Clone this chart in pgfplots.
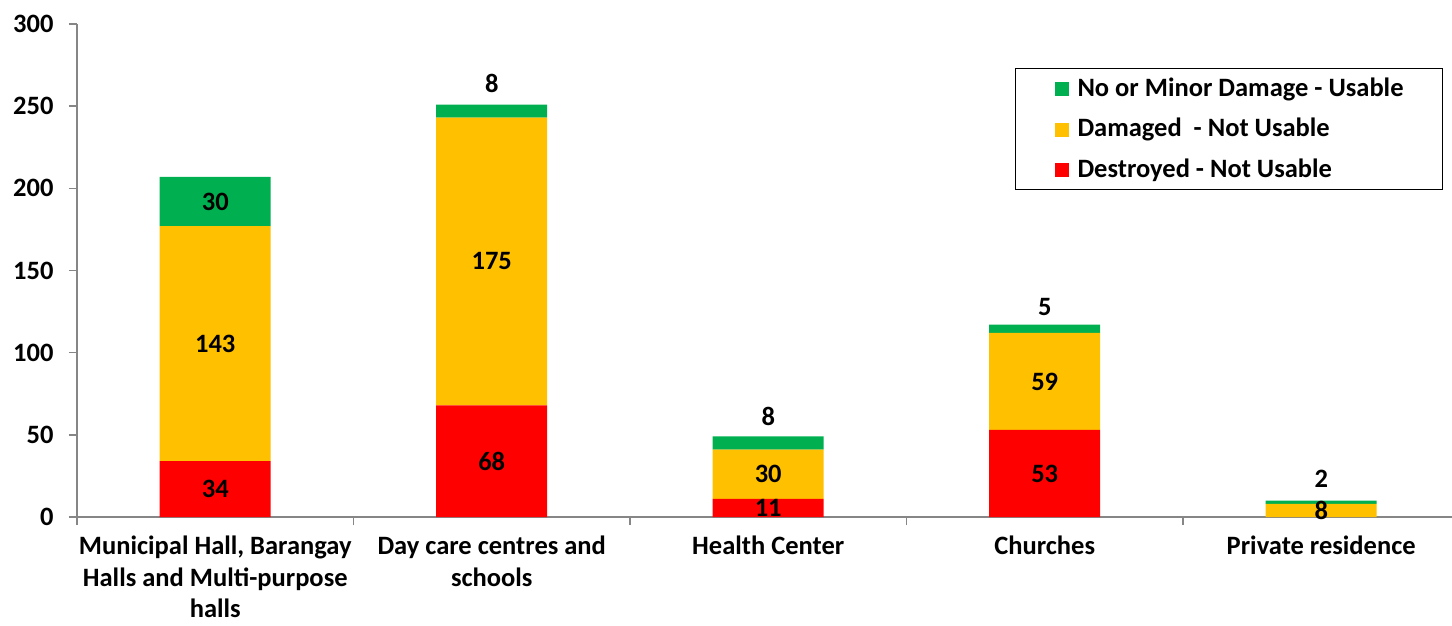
\documentclass[border=0pt]{standalone}
\usepackage{pgfplots}
\pgfplotsset{compat=1.18}
\usepackage{fontspec}
\setmainfont{Carlito}
\definecolor{cgreen}{HTML}{00B050}
\definecolor{cyellow}{HTML}{FFC000}
\definecolor{cred}{HTML}{FF0000}
\definecolor{axgray}{HTML}{868686}
\newcommand{\cfont}{\fontsize{26.5bp}{32.5bp}\selectfont\bfseries}
\newcommand{\xfont}{\fontsize{26.5bp}{31.5bp}\selectfont\bfseries}
\begin{document}
\begin{tikzpicture}
\useasboundingbox (-77bp,-109bp) rectangle (1375bp,517bp);
\pgfplotsset{
  base/.style={
    scale only axis, width=1382.5bp, height=493bp,
    xmin=-0.5, xmax=4.5, ymin=0, ymax=300,
    at={(0,0)}, anchor=south west,
  }
}
\begin{axis}[base,
  ybar stacked, bar width=111bp,
  axis lines*=left,
  axis line style={axgray, line width=1.5bp},
  ytick={0,50,100,150,200,250,300},
  xtick={-0.5,0.5,1.5,2.5,3.5,4.5},
  x tick label as interval,
  xticklabels={{Municipal Hall, Barangay\\Halls and Multi-purpose\\halls},
    {Day care centres and\\schools},{Health Center},{Churches},{Private residence}},
  xticklabel style={align=center, font=\xfont, text=black, yshift=-11bp, inner ysep=0bp},
  yticklabel style={font=\cfont, text=black, xshift=-12bp},
  /pgf/number format/assume math mode=true,
  tick align=outside,
  major tick length=8bp,
  tick style={axgray, line width=1.5bp},
  legend style={at={(0.6785,0.911)}, anchor=north west, draw=black, line width=1bp,
    inner xsep=39bp, inner ysep=9bp, row sep=18.5bp,
    font=\cfont,
    nodes={inner sep=0bp, text height=19bp, text depth=3bp},
    /tikz/every odd column/.append style={column sep=9bp}},
  legend cell align=left,
  legend image code/.code={\fill[#1] (0bp,-8bp) rectangle (14bp,6bp);},
  reverse legend,
]
\addplot[fill=cred, draw=none] coordinates {(0,34) (1,68) (2,11) (3,53) (4,0)};
\addplot[fill=cyellow, draw=none] coordinates {(0,143) (1,175) (2,30) (3,59) (4,8)};
\addplot[fill=cgreen, draw=none] coordinates {(0,30) (1,8) (2,8) (3,5) (4,2)};
\legend{Destroyed - Not Usable, Damaged\ \ - Not Usable, No or Minor Damage - Usable}
\end{axis}
\begin{axis}[base, hide axis, clip=false]
\addplot[draw=none, mark=none, nodes near coords, point meta=explicit symbolic,
  nodes near coords style={anchor=center, font=\cfont, text=black, inner sep=0pt}]
table[meta=label] {
x y label
0 17 34
1 34 68
2 5.5 11
3 26.5 53
0 105.5 143
1 155.5 175
2 26 30
3 82.5 59
4 4 8
0 192 30
1 264 8
2 61 8
3 128 5
4 23.5 2
};
\end{axis}
\end{tikzpicture}
\end{document}
